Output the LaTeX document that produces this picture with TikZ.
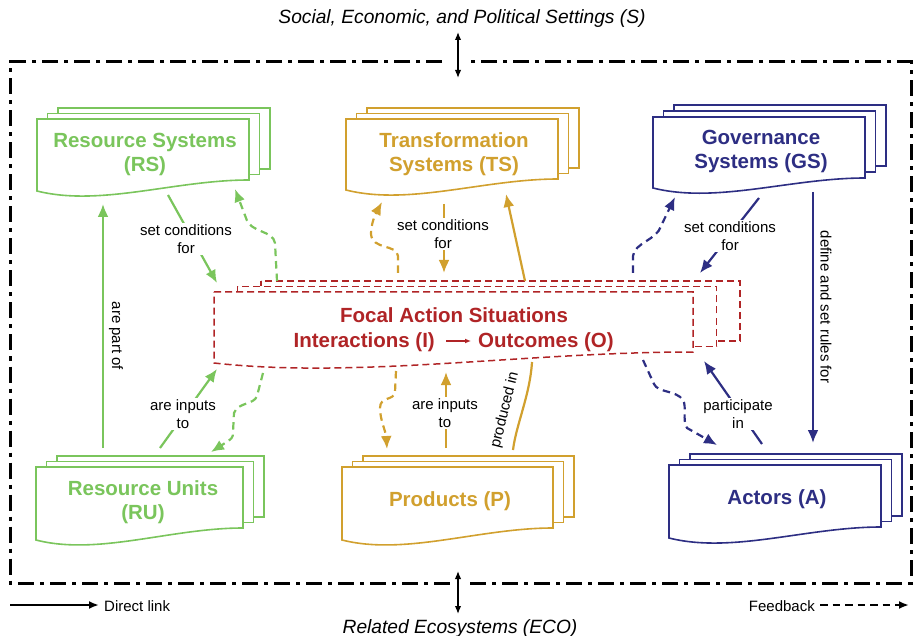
\documentclass[tikz,border=0pt]{standalone}
\usepackage{fontspec}
\setmainfont{Liberation Sans}
\usetikzlibrary{arrows.meta,calc}
\definecolor{cg}{RGB}{122,197,92}
\definecolor{cy}{RGB}{209,160,46}
\definecolor{cb}{RGB}{45,46,131}
\definecolor{cr}{RGB}{176,36,38}
% #1 L, #2 T, #3 R, #4 bottom-left y, #5 bottom-right y, #6 style, #7 dx, #8 dy
\newcommand\stackdoc[8]{%
  \foreach \k in {2,1}{%
    \path[#6] ({#1+\k*#7},{#2-\k*#8}) rectangle ({#3+\k*#7},{#5-\k*#8});
  }%
  \path[#6] (#1,#2) -- (#3,#2) -- (#3,#5)
    .. controls ({#1+0.65*(#3-#1)},#5) and ({#1+0.3*(#3-#1)},{#4+16}) .. (#1,#4) -- cycle;
}
\begin{document}
\begin{tikzpicture}[x=1pt,y=-1pt,
  docbase/.style={line width=1.6pt, fill=white},
  docg/.style={docbase, draw=cg},
  docy/.style={docbase, draw=cy},
  docb/.style={docbase, draw=cb},
  docr/.style={docbase, draw=cr, line width=1.5pt, dash pattern=on 7pt off 4pt},
  ttl/.style={font=\fontsize{20.5}{24}\selectfont\bfseries, align=center, inner sep=0pt},
  lbl/.style={font=\fontsize{15}{18}\selectfont, align=center, fill=white, inner sep=1.5pt},
  link/.style={line width=2.2pt, -{Latex[length=13pt,width=11pt]}},
  solidline/.style={line width=2.2pt},
  fb/.style={link, dash pattern=on 7.5pt off 5pt},
  outerframe/.style={line width=3pt, dash pattern=on 16pt off 6pt on 4pt off 6pt},
  bi/.style={line width=1.4pt, {Latex[length=8pt,width=6.5pt]}-{Latex[length=8pt,width=6.5pt]}},
  ital/.style={font=\fontsize{19.2}{22}\selectfont\itshape, inner sep=0pt},
  legend/.style={font=\fontsize{15}{18}\selectfont, inner sep=0pt}
]
\useasboundingbox (0,0) rectangle (913,636);

% outer frame
\draw[outerframe] (442,62) -- (10.5,62) -- (10.5,583) -- (451,583);
\draw[outerframe] (470,583) -- (911,583) -- (911,62) -- (471,62);

% external settings
\node[ital, anchor=base] (S) at (462,24) {Social, Economic, and Political Settings (S)};
\node[ital, anchor=base] (ECO) at (460,633) {Related Ecosystems (ECO)};
\coordinate (s-a) at (458,32); \coordinate (s-b) at (458,78);
\coordinate (e-a) at (458,571); \coordinate (e-b) at (458,614);
\draw[bi] (s-a) -- (s-b);
\draw[bi] (e-a) -- (e-b);

% boxes
\stackdoc{37}{119}{249}{191}{180}{docg}{10.5}{5.5}
\stackdoc{346}{119}{558}{190}{179}{docy}{10.5}{5.5}
\stackdoc{653}{117}{865}{188}{178}{docb}{10.5}{6}
\stackdoc{36}{467}{243}{540}{528}{docg}{10.5}{5.5}
\stackdoc{342}{467}{553}{540}{528}{docy}{10.5}{5.5}
\stackdoc{669}{465}{881}{538}{527}{docb}{10.5}{5.5}
\stackdoc{214}{292}{693}{363}{352}{docr}{23.5}{5.5}

% box titles
\node[ttl, text=cg] (RS) at (145,154.5) {Resource Systems\\(RS)};
\node[ttl, text=cy] (TS) at (454,154.5) {Transformation\\Systems (TS)};
\node[ttl, text=cb] (GS) at (761,151) {Governance\\Systems (GS)};
\node[ttl, text=cg] (RU) at (143,502.5) {Resource Units\\(RU)};
\node[ttl, text=cy, anchor=base] (P) at (450,506) {Products (P)};
\node[ttl, text=cb, anchor=base] (A) at (777,504) {Actors (A)};
\node[ttl, text=cr, anchor=base] (F1) at (454,323) {Focal Action Situations};
\node[ttl, text=cr, anchor=base east] (I) at (435,348) {Interactions (I)};
\node[ttl, text=cr, anchor=base west] (O) at (478,348) {Outcomes (O)};
\draw[cr, line width=1.2pt, -{Latex[length=6pt,width=5pt]}] ($(I.base east)+(11,-7)$) -- ($(O.base west)+(-7,-7)$);

% ---- green links
\coordinate (g1a) at (103,448); \coordinate (g1b) at (103,204);
\draw[link, cg] (g1a) -- (g1b);
\node[lbl, rotate=-90, fill=none] (partof) at (116,336) {are part of};

\coordinate (g2a) at (168,195); \coordinate (g2b) at (217,283);
\draw[link, cg] (g2a) -- (g2b);
\node[lbl] (g2l) at (186,239) {set conditions\\for};

\coordinate (g3a) at (160,448); \coordinate (g3b) at (217,369);
\draw[link, cg] (g3a) -- (g3b);
\node[lbl] (g3l) at (183,414) {are inputs\\to};

\coordinate (g4a) at (277,281); \coordinate (g4b) at (235,189);
\draw[fb, cg] (g4a) -- (275,243) .. controls (273,230) and (250,233) .. (246,218) -- (g4b);

\coordinate (g5a) at (263,373); \coordinate (g5b) at (211,452);
\draw[fb, cg] (g5a) -- (257,396) .. controls (254,405) and (238,402) .. (234,413)
  -- (233,432) .. controls (233,438) .. (g5b);

% ---- gold links
\coordinate (y1a) at (444,204); \coordinate (y1b) at (444,273);
\draw[link, cy] (y1a) -- (y1b);
\node[lbl] (y1l) at (443,234) {set conditions\\for};

\coordinate (y2a) at (446,448); \coordinate (y2b) at (446,372);
\draw[link, cy] (y2a) -- (y2b);
\node[lbl] (y2l) at (445,413) {are inputs\\to};

\coordinate (y3a) at (513,450); \coordinate (y3b) at (532,362);
\draw[solidline, cy] (y3a) .. controls (516,425) and (530,395) .. (y3b);
\node[lbl, fill=none, inner sep=0pt, rotate=76] (y3l) at (505,410) {produced in};
\coordinate (y4a) at (525,281); \coordinate (y4b) at (506,194);
\draw[link, cy] (y4a) -- (y4b);

\coordinate (y5a) at (398,273); \coordinate (y5b) at (382,202);
\draw[fb, cy] (y5a) -- (398,256) .. controls (397,244) and (372,250) .. (371,234)
  .. controls (371,224) and (375,215) .. (y5b);

\coordinate (y6a) at (396,371); \coordinate (y6b) at (387,449);
\draw[fb, cy] (y6a) -- (395,392) .. controls (394,401) and (380,396) .. (380,408)
  .. controls (380,420) and (386,432) .. (y6b);

% ---- blue links
\coordinate (b1a) at (759,198); \coordinate (b1b) at (700,273);
\draw[link, cb] (b1a) -- (b1b);
\node[lbl] (b1l) at (730,236) {set conditions\\for};

\coordinate (b2a) at (813,192); \coordinate (b2b) at (813,443);
\draw[link, cb] (b2a) -- (b2b);
\node[lbl, fill=none, rotate=-90] (b2l) at (826,307) {define and set rules for};

\coordinate (b3a) at (762,444); \coordinate (b3b) at (704,361);
\draw[link, cb] (b3a) -- (b3b);
\node[lbl] (b3l) at (738,414) {participate\\in};

\coordinate (b4a) at (633,273); \coordinate (b4b) at (675,197);
\draw[fb, cb] (b4a) -- (633,256) .. controls (634,243) and (657,240) .. (661,226) -- (b4b);

\coordinate (b5a) at (643,360); \coordinate (b5b) at (717,445);
\draw[fb, cb] (b5a) -- (654,384) .. controls (658,393) and (676,390) .. (683,400)
  .. controls (687,407) and (682,420) .. (687,428) -- (b5b);

% ---- legend
\coordinate (la) at (10,605); \coordinate (lb) at (99,605);
\draw[link, black, -{Latex[length=10pt,width=8pt]}] (la) -- (lb);
\node[legend, anchor=west] (dl) at (104,606) {Direct link};
\coordinate (fa) at (820,605); \coordinate (fbb) at (909,605);
\draw[fb, black, -{Latex[length=10pt,width=8pt]}] (fa) -- (fbb);
\node[legend, anchor=east] (fbl) at (815,606) {Feedback};
\end{tikzpicture}
\end{document}
